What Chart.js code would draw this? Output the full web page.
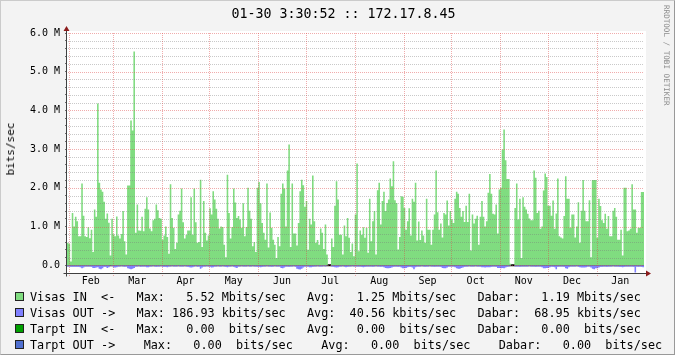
<!DOCTYPE html>
<html lang="en">
<head>
<meta charset="UTF-8">
<title>Traffic 172.17.8.45</title>
<script src="https://cdn.jsdelivr.net/npm/chart.js"></script>
<style>
  body { margin: 0; background: #fff; }
  #graph { position: relative; width: 675px; height: 355px; background: #f3f3f3; overflow: hidden;
           font-family: 'DejaVu Sans Mono', monospace; color: #000; }
  #graph canvas { position: absolute; left: 0; top: 0; }
  #frame { position: absolute; left: 0; top: 0; width: 673px; height: 353px; border: 1px solid;
           border-color: #cbcbcb #999 #999 #cbcbcb; pointer-events: none; }
  .title { position: absolute; top: 6px; left: 6px; width: 675px; text-align: center; font-size: 13.3px; line-height: 16px; }
  .ylabel { position: absolute; left: 11px; top: 149px; font-size: 11px; line-height: 12px; white-space: nowrap;
            transform: translate(-50%, -50%) rotate(-90deg); }
  .side { position: absolute; left: 662px; top: 5px; font-size: 7.6px; line-height: 8px; color: #8c8c8c;
          writing-mode: vertical-rl; white-space: nowrap; }
  .row { position: absolute; left: 0; height: 16px; width: 675px; font-size: 11.8px; line-height: 16px; white-space: pre; }
  .row .sw { position: absolute; left: 15px; top: 3px; width: 7px; height: 7px; border: 1px solid #222; }
  .row .txt { position: absolute; left: 30px; top: 0; }
</style>
</head>
<body>
<div id="graph">
  <canvas id="traffic" width="675" height="355"></canvas>
  <div class="title">01-30 3:30:52 :: 172.17.8.45</div>
  <div class="ylabel">bits/sec</div>
  <div class="side">RRDTOOL / TOBI OETIKER</div>
  <div class="row" style="top:289px"><span class="sw" style="background:#80dc80"></span><span class="txt">Visas IN  &lt;-   Max:   5.52 Mbits/sec   Avg:   1.25 Mbits/sec   Dabar:   1.19 Mbits/sec</span></div>
  <div class="row" style="top:305px"><span class="sw" style="background:#8080ff"></span><span class="txt">Visas OUT -&gt;   Max: 186.93 kbits/sec   Avg:  40.56 kbits/sec   Dabar:  68.95 kbits/sec</span></div>
  <div class="row" style="top:321px"><span class="sw" style="background:#00a000"></span><span class="txt">Tarpt IN  &lt;-   Max:   0.00  bits/sec   Avg:   0.00  bits/sec   Dabar:   0.00  bits/sec</span></div>
  <div class="row" style="top:337px"><span class="sw" style="background:#5070d0"></span><span class="txt">Tarpt OUT -&gt;    Max:   0.00  bits/sec    Avg:   0.00  bits/sec    Dabar:   0.00  bits/sec</span></div>
  <div id="frame"></div>
</div>

<script>
  // x axis is in days, day 0 = Jan 31 of the previous year, 365 days in total
  const monthNames = ['Feb', 'Mar', 'Apr', 'May', 'Jun', 'Jul', 'Aug', 'Sep', 'Oct', 'Nov', 'Dec', 'Jan'];
  const monthStarts = [1, 29, 60, 90, 121, 151, 182, 213, 243, 274, 304, 335];
  const totalDays = 365;

  // y axis, Mbits/sec
  const yMin = -0.2;
  const yMax = 6;
  const yStep = 0.2;
  const yLabels = ['0.0', '1.0 M', '2.0 M', '3.0 M', '4.0 M', '5.0 M', '6.0 M'];

  // Visas IN, daily, Mbits/sec
  const visasIn = [
    0.58,
    // Feb
    0.55, 0.1, 1.35, 1.0, 1.25, 1.14, 0.75, 0.75, 2.11, 1.28, 0.75, 0.73, 0.98, 0.7, 0.92, 0.34, 1.44, 1.25, 4.18, 2.13,
    1.96, 1.9, 1.64, 1.2, 1.34, 1.1, 0.25, 1.2,
    // Mar
    0.8, 0.75, 1.26, 0.77, 0.69, 0.81, 1.4, 0.62, 0.28, 2.06, 2.06, 3.74, 3.48, 5.52, 0.84, 1.57, 0.9, 0.89, 1.25, 0.88,
    1.46, 1.76, 1.44, 0.95, 0.88, 1.16, 1.2, 1.57, 1.42, 1.22, 1.2,
    // Apr
    0.66, 0.77, 1.0, 0.73, 0.3, 2.09, 1.22, 0.97, 0.42, 0.58, 1.31, 1.41, 1.98, 1.11, 0.69, 0.79, 0.9, 0.9, 1.76, 0.79,
    1.98, 1.11, 0.58, 0.6, 2.21, 0.47, 1.66, 0.84, 0.64, 0.77,
    // May
    1.47, 1.31, 1.91, 1.7, 1.46, 1.2, 0.95, 1.0, 0.99, 0.53, 0.21, 2.34, 1.35, 0.69, 0.99, 1.98, 1.62, 1.22, 1.27, 1.18,
    0.97, 1.6, 0.75, 0.99, 2.0, 1.41, 1.2, 0.49, 0.6, 0.34, 2.0,
    // Jun
    2.15, 1.6, 1.09, 0.84, 0.66, 2.11, 0.46, 1.36, 0.97, 0.66, 0.53, 0.19, 0.73, 0.49, 1.85, 2.11, 1.98, 1.0, 2.45, 3.12,
    0.47, 2.11, 0.82, 0.82, 0.51, 1.09, 1.91, 2.21, 2.07, 1.51,
    // Jul
    1.66, 0.4, 1.2, 1.05, 2.32, 1.14, 0.58, 0.65, 0.53, 0.95, 0.84, 0.42, 1.05, 0.28, 0, 0, 0.69, 0.47, 1.54, 2.17,
    1.7, 0.79, 0.79, 0.28, 1.03, 0.75, 1.22, 0.71, 0.34, 0.56, 0.23,
    // Aug
    1.31, 2.63, 0.36, 0.9, 0.79, 0.98, 0.71, 0.97, 0.32, 1.72, 0.62, 1.14, 1.4, 0.28, 1.94, 2.13, 1.05, 1.66, 1.9, 1.4,
    1.61, 1.7, 2.24, 2.04, 2.69, 1.68, 1.61, 0.41, 0.73, 1.78, 1.77,
    // Sep
    1.48, 0.92, 1.14, 1.47, 0.77, 1.72, 1.64, 2.13, 0.64, 1.13, 0.65, 0.9, 0.77, 0.58, 1.72, 0.92, 0.92, 0.53, 0.92, 1.31,
    2.45, 1.37, 0.92, 1.08, 0.72, 1.35, 1.31, 1.67, 1.03, 1.4,
    // Oct
    1.18, 1.09, 1.72, 1.9, 1.85, 1.48, 1.25, 1.4, 1.12, 1.54, 1.12, 1.85, 0.38, 1.31, 1.08, 1.2, 1.28, 0.53, 1.25, 1.66,
    1.25, 1.0, 1.14, 1.87, 2.36, 1.85, 1.33, 1.31, 1.57, 0.82, 1.96,
    // Nov
    2.0, 2.99, 3.51, 2.71, 2.23, 2.23, 0.04, 0, 0, 1.48, 2.11, 1.18, 1.72, 0.19, 1.76, 1.51, 1.44, 1.33, 1.21, 1.16,
    1.16, 2.45, 2.26, 1.35, 1.41, 0.94, 1.0, 1.93, 2.37, 2.28,
    // Dec
    1.54, 1.54, 1.28, 1.67, 0.94, 1.34, 2.24, 0.75, 0.72, 0.69, 1.27, 2.3, 1.72, 1.72, 0.97, 1.31, 1.31, 0.72, 1.0, 1.63,
    0.58, 1.41, 2.2, 1.41, 1.14, 1.14, 1.68, 0.21, 2.2, 2.2, 2.2,
    // Jan
    0.71, 1.72, 1.53, 1.16, 1.09, 1.33, 0.94, 1.27, 0.75, 0.75, 1.41, 1.48, 1.25, 0.66, 0.66, 0.92, 0.25, 2.0, 2.0, 0.88,
    0.9, 0.94, 2.09, 1.44, 1.44, 0.84, 0.97, 0.97, 1.89, 1.89
  ];

  // Visas OUT, daily, Mbits/sec (drawn below zero)
  const visasOut = [
    0.03,
    // Feb
    0.03, 0.04, 0.04, 0.04, 0.04, 0.04, 0.04, 0.05, 0.08, 0.06, 0.03, 0.03, 0.03, 0.03, 0.04, 0.07, 0.07, 0.06, 0.05, 0.09,
    0.1, 0.08, 0.04, 0.04, 0.07, 0.05, 0.01, 0.02,
    // Mar
    0.06, 0.06, 0.05, 0.03, 0.03, 0.02, 0.03, 0.04, 0.03, 0.08, 0.09, 0.1, 0.09, 0.07, 0.03, 0.03, 0.02, 0.04, 0.03, 0.03,
    0.03, 0.05, 0.05, 0.03, 0.03, 0.02, 0.03, 0.04, 0.03, 0.03, 0.02,
    // Apr
    0.04, 0.04, 0.04, 0.05, 0.03, 0.03, 0.02, 0.03, 0.03, 0.03, 0.02, 0.03, 0.03, 0.03, 0.02, 0.03, 0.04, 0.05, 0.06, 0.05,
    0.03, 0.02, 0.04, 0.03, 0.09, 0.06, 0.03, 0.03, 0.02, 0.03,
    // May
    0.04, 0.06, 0.05, 0.03, 0.03, 0.02, 0.03, 0.03, 0.02, 0.03, 0.04, 0.05, 0.03, 0.03, 0.02, 0.04, 0.06, 0.07, 0.03, 0.03,
    0.02, 0.03, 0.03, 0.03, 0.02, 0.03, 0.03, 0.02, 0.03, 0.03, 0.04,
    // Jun
    0.04, 0.05, 0.04, 0.03, 0.03, 0.02, 0.03, 0.03, 0.04, 0.03, 0.02, 0.03, 0.03, 0.03, 0.07, 0.08, 0.06, 0.03, 0.03, 0.04,
    0.03, 0.03, 0.02, 0.04, 0.09, 0.1, 0.11, 0.09, 0.06, 0.03,
    // Jul
    0.03, 0.03, 0.05, 0.05, 0.04, 0.03, 0.03, 0.02, 0.03, 0.03, 0.03, 0.02, 0.03, 0.01, 0, 0, 0.03, 0.04, 0.05, 0.06,
    0.05, 0.03, 0.03, 0.02, 0.04, 0.05, 0.04, 0.03, 0.03, 0.02, 0.03,
    // Aug
    0.03, 0.03, 0.03, 0.03, 0.04, 0.05, 0.04, 0.03, 0.03, 0.03, 0.03, 0.04, 0.03, 0.02, 0.03, 0.03, 0.04, 0.03, 0.05, 0.07,
    0.08, 0.08, 0.07, 0.06, 0.04, 0.03, 0.03, 0.04, 0.03, 0.06, 0.08,
    // Sep
    0.08, 0.07, 0.05, 0.04, 0.04, 0.06, 0.1, 0.05, 0.03, 0.03, 0.03, 0.02, 0.03, 0.04, 0.03, 0.03, 0.02, 0.03, 0.03, 0.04,
    0.03, 0.03, 0.03, 0.04, 0.07, 0.08, 0.08, 0.06, 0.03, 0.03,
    // Oct
    0.03, 0.03, 0.05, 0.08, 0.09, 0.09, 0.07, 0.06, 0.04, 0.03, 0.03, 0.02, 0.03, 0.03, 0.03, 0.02, 0.03, 0.03, 0.03, 0.05,
    0.05, 0.06, 0.05, 0.05, 0.05, 0.04, 0.03, 0.03, 0.04, 0.07, 0.07,
    // Nov
    0.08, 0.07, 0.08, 0.06, 0.04, 0.03, 0.01, 0, 0, 0.03, 0.03, 0.03, 0.04, 0.03, 0.03, 0.03, 0.03, 0.03, 0.02, 0.03,
    0.03, 0.03, 0.04, 0.03, 0.03, 0.03, 0.05, 0.08, 0.08, 0.07,
    // Dec
    0.07, 0.05, 0.03, 0.04, 0.05, 0.1, 0.04, 0.03, 0.03, 0.03, 0.04, 0.08, 0.09, 0.05, 0.03, 0.03, 0.03, 0.03, 0.02, 0.04,
    0.05, 0.06, 0.06, 0.06, 0.05, 0.03, 0.03, 0.06, 0.09, 0.1, 0.08,
    // Jan
    0.08, 0.06, 0.04, 0.04, 0.03, 0.03, 0.04, 0.03, 0.03, 0.03, 0.02, 0.03, 0.03, 0.03, 0.04, 0.04, 0.05, 0.04, 0.03, 0.03,
    0.03, 0.03, 0.03, 0.04, 0.187, 0.03, 0.04, 0.03, 0.04, 0.05
  ];

  const MGRID = 'rgba(222, 72, 72, 0.45)';
  const GRID = 'rgba(120, 120, 120, 0.4)';
  const AXIS = '#404040';
  const ARROW = '#8c1c1c';

  // each value holds for one whole day -> step line, plus a closing point at the end
  function steps(values, sign) {
    const pts = values.map((v, i) => ({ x: i, y: sign * v }));
    pts.push({ x: values.length, y: sign * values[values.length - 1] });
    return pts;
  }

  const monthMids = monthStarts.map((s, i) => (s + (i + 1 < monthStarts.length ? monthStarts[i + 1] : totalDays)) / 2);
  const xTicks = monthStarts.concat(monthMids).sort((a, b) => a - b);
  const yTicks = [];
  for (let k = 0; k <= Math.round((yMax - yMin) / yStep); k++) yTicks.push(Math.round((yMin + k * yStep) * 10) / 10);

  const isMajorY = v => Math.abs(v - Math.round(v)) < 1e-6 && v >= 0;

  // rrdtool style: white canvas, dotted grid over the areas, axes with arrows
  const rrdFrame = {
    id: 'rrdFrame',
    beforeDraw(chart) {
      const { ctx, chartArea: a } = chart;
      ctx.save();
      ctx.fillStyle = '#ffffff';
      ctx.fillRect(a.left, a.top - 2, a.right - a.left + 2, a.bottom - a.top + 2);
      ctx.restore();
    },
    afterDatasetsDraw(chart) {
      const { ctx, chartArea: a, scales: { x, y } } = chart;
      const l = Math.round(a.left), r = Math.round(a.right);
      const t = Math.round(a.top), b = Math.round(a.bottom);
      ctx.save();
      yTicks.forEach(v => {
        if (v <= yMin) return;
        const py = Math.round(y.getPixelForValue(v));
        ctx.fillStyle = isMajorY(v) ? MGRID : GRID;
        for (let px = l + 1; px < r; px += 2) ctx.fillRect(px, py, 1, 1);
      });
      ctx.fillStyle = MGRID;
      monthStarts.forEach(v => {
        const px = Math.round(x.getPixelForValue(v));
        for (let py = t; py < b + 3; py += 2) ctx.fillRect(px, py, 1, 1);
      });
      ctx.restore();
    },
    afterDraw(chart) {
      const { ctx, chartArea: a } = chart;
      const x0 = Math.round(a.left) - 0.5, y0 = Math.round(a.bottom) + 0.5;
      ctx.save();
      ctx.strokeStyle = AXIS;
      ctx.lineWidth = 1;
      ctx.beginPath();
      ctx.moveTo(x0 - 3, y0); ctx.lineTo(a.right + 3, y0);
      ctx.moveTo(x0, y0 + 3); ctx.lineTo(x0, a.top - 3);
      ctx.stroke();
      ctx.fillStyle = ARROW;
      ctx.beginPath();
      ctx.moveTo(a.right + 7, y0); ctx.lineTo(a.right + 2, y0 - 3); ctx.lineTo(a.right + 2, y0 + 3); ctx.closePath();
      ctx.moveTo(x0, a.top - 7); ctx.lineTo(x0 - 3, a.top - 2); ctx.lineTo(x0 + 3, a.top - 2); ctx.closePath();
      ctx.fill();
      ctx.restore();
    }
  };

  Chart.defaults.font.family = "'DejaVu Sans Mono', monospace";
  Chart.defaults.font.size = 10;
  Chart.defaults.color = '#000';

  new Chart(document.getElementById('traffic'), {
    type: 'line',
    data: {
      datasets: [
        { label: 'Visas IN', data: steps(visasIn, 1), stepped: true, fill: 'origin',
          backgroundColor: '#80dc80', borderColor: 'rgba(0,0,0,0)', borderWidth: 0, pointRadius: 0 },
        { label: 'Visas OUT', data: steps(visasOut, -1), stepped: true, fill: 'origin',
          backgroundColor: '#8080ff', borderColor: 'rgba(0,0,0,0)', borderWidth: 0, pointRadius: 0 },
        { label: 'zero', data: [{ x: 0, y: 0 }, { x: totalDays, y: 0 }], borderColor: '#000', borderWidth: 2,
          pointRadius: 0, fill: false }
      ]
    },
    options: {
      responsive: false,
      animation: false,
      devicePixelRatio: 1,
      layout: { padding: { left: 0, right: 31, top: 33, bottom: 62 } },
      plugins: { legend: { display: false }, tooltip: { enabled: false } },
      scales: {
        x: {
          type: 'linear', min: 0, max: totalDays,
          afterBuildTicks: s => { s.ticks = xTicks.map(v => ({ value: v })); },
          afterFit: s => { s.height = 20; },
          ticks: {
            autoSkip: false, maxRotation: 0, padding: -1,
            callback: v => { const i = monthMids.indexOf(v); return i >= 0 ? monthNames[i] : ''; }
          },
          grid: { drawOnChartArea: false, drawTicks: true, tickLength: 3, tickColor: 'rgba(0,0,0,0)' },
          border: { display: false }
        },
        y: {
          min: yMin, max: yMax,
          afterBuildTicks: s => { s.ticks = yTicks.map(v => ({ value: v })); },
          afterFit: s => { s.width = 67; },
          ticks: {
            autoSkip: false, padding: 5,
            callback: v => isMajorY(v) ? yLabels[Math.round(v)] : ''
          },
          grid: { drawOnChartArea: false, drawTicks: true, tickLength: 2, tickColor: '#707070' },
          border: { display: false }
        }
      }
    },
    plugins: [rrdFrame]
  });
</script>
</body>
</html>
